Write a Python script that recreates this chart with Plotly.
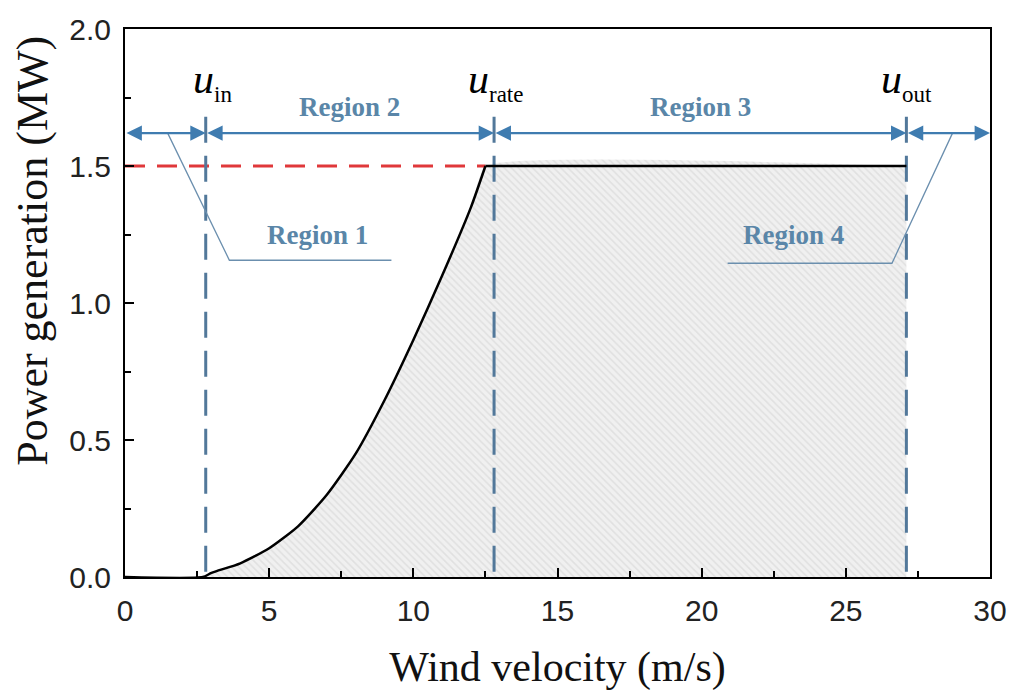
import plotly.graph_objects as go

# ---- data ----
wind = [0, 2.7, 3, 4, 5, 6, 7, 8, 9, 10, 11, 12, 12.5, 27.1]
power = [0, 0, 0.015, 0.05, 0.105, 0.185, 0.30, 0.45, 0.645, 0.865, 1.10, 1.35, 1.5, 1.5]

u_in, u_rate, u_out = 2.8, 12.8, 27.1
rated_power = 1.5
arrow_y = 1.62
x_ticks = [0, 5, 10, 15, 20, 25, 30]
y_ticks = [0.0, 0.5, 1.0, 1.5, 2.0]

region_labels = ["Region 1", "Region 2", "Region 3", "Region 4"]
u_labels = ["in", "rate", "out"]

# callout leader lines
r1_x = [1.48, 3.62, 9.24]
r1_y = [1.62, 1.156, 1.156]
r4_x = [20.9, 26.6, 28.7]
r4_y = [1.145, 1.145, 1.62]

BLUE = "#3f7cb0"
DASHBLUE = "#52789a"
LABELBLUE = "#5a86a8"
SERIF = "Liberation Serif, Times New Roman, serif"
SANS = "Liberation Sans, Arial, sans-serif"

n_rise = wind.index(12.5) + 1  # rising part of the curve

fig = go.Figure()

# shaded hatched area under the curve
fig.add_trace(go.Scatter(
    x=wind, y=power, mode="lines", line=dict(width=0, shape="spline", smoothing=0.4),
    fill="tozeroy", fillcolor="#efefef",
    fillpattern=dict(shape="\\", fgcolor="#d0d0d0", bgcolor="#f0f0f0", size=5, solidity=0.3),
    hoverinfo="skip", showlegend=False))

# red dashed rated power line
fig.add_trace(go.Scatter(
    x=[0, 12.5], y=[rated_power, rated_power], mode="lines",
    line=dict(color="#e0383a", width=3, dash="20px,12px"),
    hoverinfo="skip", showlegend=False))

# vertical dashed lines
for u in (u_in, u_rate, u_out):
    fig.add_trace(go.Scatter(
        x=[u, u], y=[1.68, 0], mode="lines",
        line=dict(color=DASHBLUE, width=3, dash="26px,13px"),
        hoverinfo="skip", showlegend=False))

# callout lines
fig.add_trace(go.Scatter(x=r1_x, y=r1_y, mode="lines",
                         line=dict(color="#6b8fae", width=1.3),
                         hoverinfo="skip", showlegend=False))
fig.add_trace(go.Scatter(x=r4_x, y=r4_y, mode="lines",
                         line=dict(color="#6b8fae", width=1.3),
                         hoverinfo="skip", showlegend=False))

# power curve: smooth rising part + flat rated part
fig.add_trace(go.Scatter(
    x=wind[:n_rise], y=power[:n_rise], mode="lines",
    line=dict(color="black", width=2.5, shape="spline", smoothing=0.6),
    hoverinfo="skip", showlegend=False))
fig.add_trace(go.Scatter(
    x=wind[n_rise - 1:], y=power[n_rise - 1:], mode="lines",
    line=dict(color="black", width=2.5),
    hoverinfo="skip", showlegend=False))

annotations = []
# double-headed arrows for regions
bounds = [0, u_in, u_rate, u_out, 30]
for a, b in zip(bounds[:-1], bounds[1:]):
    annotations.append(dict(
        x=b, y=arrow_y, ax=a, ay=arrow_y, xref="x", yref="y", axref="x", ayref="y",
        text="", showarrow=True, arrowside="end+start", arrowhead=2,
        arrowsize=1.4, arrowwidth=2.2, arrowcolor=BLUE))

# region labels
reg_font = dict(family=SERIF, size=27, color=LABELBLUE)
annotations.append(dict(x=(u_in + u_rate) / 2, y=1.715, text="<b>%s</b>" % region_labels[1],
                        showarrow=False, font=reg_font, xref="x", yref="y"))
annotations.append(dict(x=(u_rate + u_out) / 2, y=1.715, text="<b>%s</b>" % region_labels[2],
                        showarrow=False, font=reg_font, xref="x", yref="y"))
annotations.append(dict(x=6.66, y=1.25, text="<b>%s</b>" % region_labels[0],
                        showarrow=False, font=reg_font, xref="x", yref="y"))
annotations.append(dict(x=23.2, y=1.25, text="<b>%s</b>" % region_labels[3],
                        showarrow=False, font=reg_font, xref="x", yref="y"))

# u labels
for u, sub, dx in zip((u_in, u_rate, u_out), u_labels, (0.25, 0.05, 0.0)):
    annotations.append(dict(
        x=u + dx, y=1.81, xref="x", yref="y", showarrow=False,
        text="<i>u</i><sub><span style='font-size:23px'>%s</span></sub>" % sub,
        font=dict(family=SERIF, size=42, color="black")))

# y-axis title (placed a little above the axis centre, as in the reference)
annotations.append(dict(
    x=-0.107, y=0.596, xref="paper", yref="paper", showarrow=False,
    text="Power generation (MW)", textangle=-90,
    xanchor="center", yanchor="middle",
    font=dict(family=SERIF, size=44, color="#111")))

fig.update_layout(
    width=1019, height=695,
    margin=dict(l=125, r=22, t=28, b=118),
    paper_bgcolor="white", plot_bgcolor="white",
    annotations=annotations,
    xaxis=dict(
        range=[0, 30], tickvals=x_ticks, ticktext=[str(v) for v in x_ticks],
        ticks="inside", ticklen=9, tickwidth=2, tickcolor="black",
        minor=dict(ticks="inside", ticklen=6, tickwidth=2, tickcolor="black", dtick=2.5, tick0=0),
        showline=True, linecolor="black", linewidth=2, mirror=True,
        showgrid=False, zeroline=False,
        tickfont=dict(family=SANS, size=30, color="#222"),
        ticklabelstandoff=6,
        title=dict(text="Wind velocity (m/s)", font=dict(family=SERIF, size=42, color="#111"), standoff=26),
    ),
    yaxis=dict(
        range=[0, 2], tickvals=y_ticks, ticktext=["%.1f" % v for v in y_ticks],
        ticks="inside", ticklen=9, tickwidth=2, tickcolor="black",
        minor=dict(ticks="inside", ticklen=6, tickwidth=2, tickcolor="black", dtick=0.25, tick0=0),
        showline=True, linecolor="black", linewidth=2, mirror=True,
        showgrid=False, zeroline=False,
        tickfont=dict(family=SANS, size=30, color="#222"),
        ticklabelstandoff=6,
    ),
)

fig.write_html("out.html")
